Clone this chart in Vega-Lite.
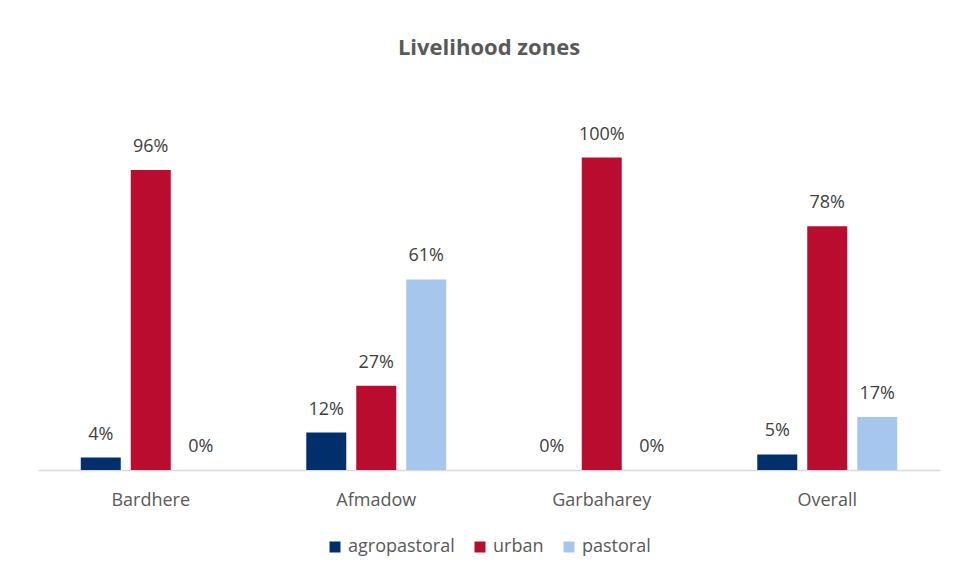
{
  "$schema": "https://vega.github.io/schema/vega-lite/v6.json",
  "width": 902,
  "height": 375,
  "autosize": {"type": "none"},
  "padding": {"left": 38, "top": 95, "right": 20, "bottom": 109},
  "background": "white",
  "title": {
    "text": "Livelihood zones",
    "font": "Open Sans",
    "fontSize": 22,
    "fontWeight": "bold",
    "color": "#595959",
    "anchor": "middle",
    "baseline": "alphabetic",
    "offset": 18
  },
  "data": {
    "values": [
      {"district": "Bardhere", "zone": "agropastoral", "share": 0.04},
      {"district": "Bardhere", "zone": "urban", "share": 0.96},
      {"district": "Bardhere", "zone": "pastoral", "share": 0.0},
      {"district": "Afmadow", "zone": "agropastoral", "share": 0.12},
      {"district": "Afmadow", "zone": "urban", "share": 0.27},
      {"district": "Afmadow", "zone": "pastoral", "share": 0.61},
      {"district": "Garbaharey", "zone": "agropastoral", "share": 0.0},
      {"district": "Garbaharey", "zone": "urban", "share": 1.0},
      {"district": "Garbaharey", "zone": "pastoral", "share": 0.0},
      {"district": "Overall", "zone": "agropastoral", "share": 0.05},
      {"district": "Overall", "zone": "urban", "share": 0.78},
      {"district": "Overall", "zone": "pastoral", "share": 0.17}
    ]
  },
  "encoding": {
    "x": {
      "field": "district",
      "type": "nominal",
      "sort": ["Bardhere", "Afmadow", "Garbaharey", "Overall"],
      "scale": {"paddingInner": 0.335, "paddingOuter": 0.1675},
      "axis": {
        "title": null,
        "labelAngle": 0,
        "ticks": false,
        "labelFont": "Open Sans",
        "labelFontSize": 18,
        "labelColor": "#595959",
        "labelPadding": 21,
        "domainColor": "#D9D9D9",
        "domainWidth": 1.5
      }
    },
    "xOffset": {
      "field": "zone",
      "type": "nominal",
      "sort": ["agropastoral", "urban", "pastoral"],
      "scale": {"paddingInner": 0.2, "paddingOuter": 0.1}
    },
    "y": {
      "field": "share",
      "type": "quantitative",
      "scale": {"domain": [0, 1.2], "nice": false},
      "axis": null
    }
  },
  "layer": [
    {
      "mark": {"type": "bar"},
      "encoding": {
        "color": {
          "field": "zone",
          "type": "nominal",
          "sort": ["agropastoral", "urban", "pastoral"],
          "scale": {
            "domain": ["agropastoral", "urban", "pastoral"],
            "range": ["#002F6C", "#BA0C2F", "#A7C6ED"]
          },
          "legend": {
            "title": null,
            "orient": "none",
            "direction": "horizontal",
            "legendX": 288,
            "legendY": 443,
            "symbolType": "square",
            "symbolSize": 121,
            "symbolStrokeWidth": 0,
            "labelFont": "Open Sans",
            "labelFontSize": 18,
            "labelColor": "#595959",
            "labelOffset": 4,
            "columnPadding": 16
          }
        }
      }
    },
    {
      "mark": {
        "type": "text",
        "font": "Open Sans",
        "fontSize": 18,
        "color": "#404040",
        "baseline": "alphabetic",
        "dy": -18
      },
      "encoding": {
        "text": {"field": "share", "type": "quantitative", "format": ".0%"}
      }
    }
  ],
  "config": {
    "view": {"stroke": null}
  }
}
